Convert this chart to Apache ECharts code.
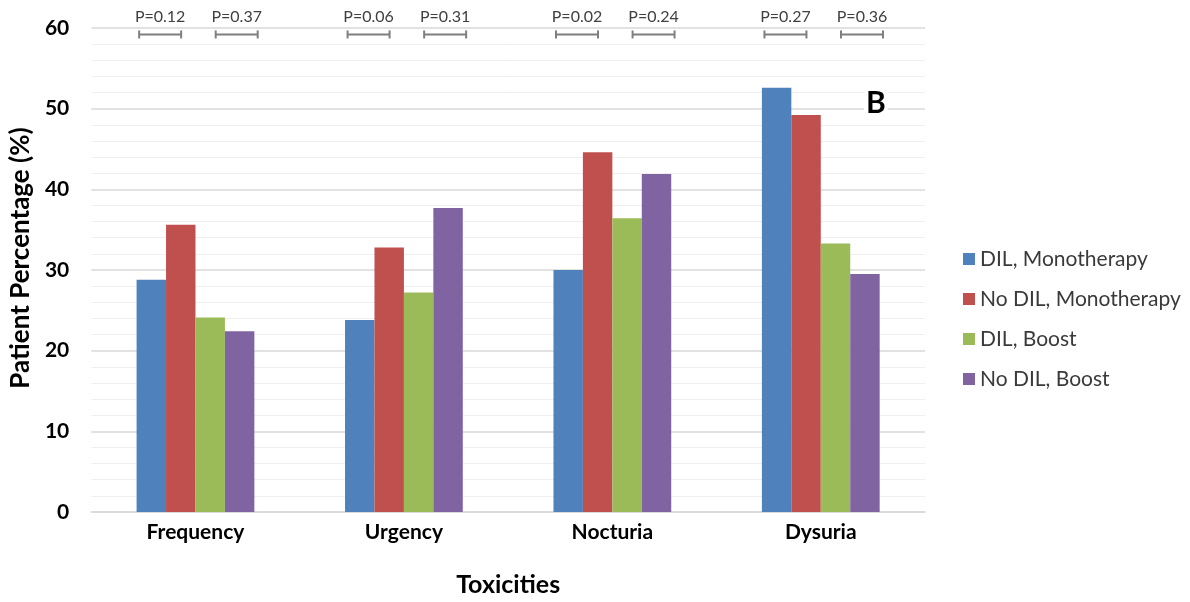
<!DOCTYPE html>
<html>
<head>
<meta charset="utf-8">
<script src="https://cdn.jsdelivr.net/npm/echarts@6/dist/echarts.min.js"></script>
<style>html,body{margin:0;padding:0;background:#fff;}#chart{width:1190px;height:602px;}</style>
</head>
<body>
<div id="chart"></div>
<script>
const categories = ['Frequency', 'Urgency', 'Nocturia', 'Dysuria'];
const seriesNames = ['DIL, Monotherapy', 'No DIL, Monotherapy', 'DIL, Boost', 'No DIL, Boost'];
const dilMono = [28.8, 23.8, 30.0, 52.6];
const noDilMono = [35.6, 32.8, 44.6, 49.2];
const dilBoost = [24.1, 27.2, 36.4, 33.3];
const noDilBoost = [22.4, 37.7, 41.9, 29.5];
const pMono = ['P=0.12', 'P=0.06', 'P=0.02', 'P=0.27'];
const pBoost = ['P=0.37', 'P=0.31', 'P=0.24', 'P=0.36'];
const yTicks = [0, 10, 20, 30, 40, 50, 60];

const colors = ['#4F81BD', '#C0504D', '#9BBB59', '#8064A2'];
const values = [dilMono, noDilMono, dilBoost, noDilBoost];
const FONT = 'Lato, "Open Sans", sans-serif';
const CAT_GAP = 0.435;

const pData = [];
categories.forEach((c, i) => {
  pData.push([i, -1, pMono[i]]);
  pData.push([i, 1, pBoost[i]]);
});

const chart = echarts.init(document.getElementById('chart'), null, {renderer: 'canvas'});
const option = {
  animation: false,
  backgroundColor: '#ffffff',
  grid: {left: 90, right: 265, top: 28, bottom: 81, containLabel: false},
  legend: {
    orient: 'vertical',
    left: 958,
    top: 243,
    data: seriesNames,
    icon: 'rect',
    itemWidth: 12,
    itemHeight: 12,
    itemGap: 18,
    textStyle: {fontFamily: FONT, fontSize: 21, color: '#3a3a3a', lineHeight: 22}
  },
  xAxis: {
    type: 'category',
    data: categories,
    axisLine: {show: true, lineStyle: {color: '#d9d9d9', width: 1.5}},
    axisTick: {show: false},
    axisLabel: {fontFamily: FONT, fontWeight: 'bold', fontSize: 21, color: '#000', margin: 10},
    name: 'Toxicities',
    nameLocation: 'middle',
    nameGap: 60,
    nameTextStyle: {fontFamily: FONT, fontWeight: 'bold', fontSize: 25, color: '#000'}
  },
  yAxis: {
    type: 'value',
    min: yTicks[0],
    max: yTicks[yTicks.length - 1],
    interval: 10,
    axisLine: {show: false},
    axisTick: {show: false},
    axisLabel: {fontFamily: FONT, fontWeight: 'bold', fontSize: 21, color: '#000', margin: 22},
    splitLine: {show: true, lineStyle: {color: '#d9d9d9', width: 1.5}},
    minorTick: {show: false, splitNumber: 5},
    minorSplitLine: {show: true, lineStyle: {color: '#efefef', width: 1}},
    name: 'Patient Percentage (%)',
    nameLocation: 'middle',
    nameRotate: 90,
    nameGap: 53,
    nameTextStyle: {fontFamily: FONT, fontWeight: 'bold', fontSize: 26, color: '#000', padding: [0, 0, 0, 24]}
  },
  series: seriesNames.map((n, k) => ({
    name: n,
    type: 'bar',
    data: values[k],
    barGap: '0%',
    barCategoryGap: (CAT_GAP * 100) + '%',
    itemStyle: {color: colors[k]}
  })).concat([{
    type: 'custom',
    name: 'pvalues',
    silent: true,
    clip: false,
    z: 5,
    encode: {x: 0, y: 1},
    data: pData,
    renderItem: function (params, api) {
      const c = api.coord([api.value(0), 59.2]);
      const band = api.size([1, 0])[0];
      const bw = band * (1 - CAT_GAP) / 4;
      const side = api.value(1);
      const cx = c[0] + (side < 0 ? -1.2 : 1.4) * bw;
      const y = c[1];
      const hw = 21;
      const st = {stroke: '#7f7f7f', lineWidth: 2};
      return {
        type: 'group',
        children: [
          {type: 'line', shape: {x1: cx - hw, y1: y, x2: cx + hw, y2: y}, style: st},
          {type: 'line', shape: {x1: cx - hw, y1: y - 4, x2: cx - hw, y2: y + 4}, style: st},
          {type: 'line', shape: {x1: cx + hw, y1: y - 4, x2: cx + hw, y2: y + 4}, style: st},
          {type: 'text', x: cx, y: y - 10, style: {text: api.value(2), textAlign: 'center', textVerticalAlign: 'bottom', fontSize: 16, fontFamily: FONT, fill: '#404040'}}
        ]
      };
    }
  }]),
  graphic: [{
    type: 'text',
    left: 864,
    top: 86,
    z: 10,
    style: {text: 'B', fontFamily: FONT, fontWeight: 'bold', fontSize: 30, fill: '#000', backgroundColor: '#fff', padding: [2, 2, 0, 2]}
  }]
};
chart.setOption(option);
</script>
</body>
</html>
